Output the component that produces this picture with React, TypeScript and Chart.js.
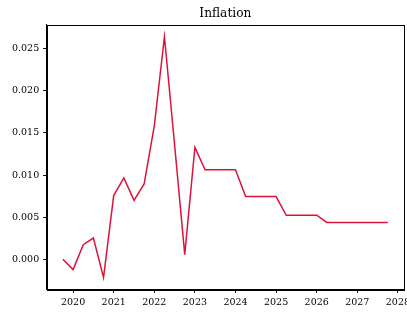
import React, { useEffect, useRef } from "react";
import { Chart, registerables } from "chart.js";

Chart.register(...registerables);

const quarters: string[] = [
  "2019-10", "2020-01", "2020-04", "2020-07", "2020-10",
  "2021-01", "2021-04", "2021-07", "2021-10",
  "2022-01", "2022-04", "2022-07", "2022-10",
  "2023-01", "2023-04", "2023-07", "2023-10",
  "2024-01", "2024-04", "2024-07", "2024-10",
  "2025-01", "2025-04", "2025-07", "2025-10",
  "2026-01", "2026-04", "2026-07", "2026-10",
  "2027-01", "2027-04", "2027-07", "2027-10",
];

const inflation: number[] = [
  0.0, -0.00122, 0.00174, 0.00252, -0.00216,
  0.00756, 0.00965, 0.00700, 0.00895,
  0.01583, 0.02642, 0.01360, 0.00055,
  0.01327, 0.01062, 0.01062, 0.01062,
  0.01062, 0.00744, 0.00744, 0.00744,
  0.00744, 0.00523, 0.00523, 0.00523,
  0.00523, 0.00437, 0.00437, 0.00437,
  0.00437, 0.00437, 0.00437, 0.00437,
];

const xTickYears: number[] = [2020, 2021, 2022, 2023, 2024, 2025, 2026, 2027, 2028];
const yTickValues: number[] = [0.0, 0.005, 0.01, 0.015, 0.02, 0.025];

const toYear = (q: string) => {
  const [y, m] = q.split("-").map(Number);
  return y + (m - 1) / 12;
};

const frame = {
  id: "frame",
  afterDraw(chart: any) {
    const { ctx, chartArea } = chart;
    ctx.save();
    ctx.strokeStyle = "#000";
    ctx.lineWidth = 1;
    ctx.strokeRect(
      Math.round(chartArea.left) + 0.5,
      Math.round(chartArea.top) + 0.5,
      Math.round(chartArea.right - chartArea.left),
      Math.round(chartArea.bottom - chartArea.top)
    );
    ctx.restore();
  },
};

export default function App() {
  const ref = useRef<HTMLCanvasElement | null>(null);
  useEffect(() => {
    if (!ref.current) return;
    const font = { family: "'DejaVu Serif', serif", size: 9.5 };
    const chart = new Chart(ref.current, {
      type: "line",
      data: {
        datasets: [
          {
            label: "Inflation",
            data: quarters.map((q, i) => ({ x: toYear(q), y: inflation[i] })),
            borderColor: "#DC143C",
            borderWidth: 1.5,
            pointRadius: 0,
            tension: 0,
            fill: false,
          },
        ],
      },
      plugins: [frame],
      options: {
        responsive: false,
        animation: false,
        devicePixelRatio: 1,
        layout: { padding: { left: 0, right: 3, top: 0, bottom: 0 } },
        plugins: {
          legend: { display: false },
          tooltip: { enabled: false },
          title: {
            display: true,
            text: "Inflation",
            fullSize: false,
            color: "#000",
            font: { family: "'DejaVu Serif', serif", size: 12.2, weight: "normal", lineHeight: 1.2 },
            padding: { top: 6.5, bottom: 3.5 },
          },
        },
        scales: {
          x: {
            type: "linear",
            min: 2019.35,
            max: 2028.15,
            afterBuildTicks: (axis: any) => {
              axis.ticks = xTickYears.map((v) => ({ value: v }));
            },
            afterFit: (axis: any) => {
              axis.height = 22.7;
              axis.paddingLeft = 0;
              axis.paddingRight = 0;
            },
            ticks: {
              color: "#000",
              font,
              padding: 4,
              maxRotation: 0,
              autoSkip: false,
              callback: (v: any) => String(v),
            },
            grid: { drawOnChartArea: false, drawTicks: true, tickLength: 3.5, color: "#000" },
            border: { display: true, color: "#000", width: 1 },
          },
          y: {
            type: "linear",
            min: -0.00356,
            max: 0.02785,
            afterBuildTicks: (axis: any) => {
              axis.ticks = yTickValues.map((v) => ({ value: v }));
            },
            afterFit: (axis: any) => {
              axis.width = 46.7;
              axis.paddingTop = 0;
              axis.paddingBottom = 0;
            },
            ticks: {
              color: "#000",
              font,
              padding: 4,
              autoSkip: false,
              callback: (v: any) => Number(v).toFixed(3),
            },
            grid: { drawOnChartArea: false, drawTicks: true, tickLength: 3.5, color: "#000" },
            border: { display: true, color: "#000", width: 1 },
          },
        },
      },
    } as any);
    return () => chart.destroy();
  }, []);
  return (
    <div style={{ position: "fixed", left: 0, top: 0, width: 407, height: 312, background: "#fff" }}>
      <canvas ref={ref} width={407} height={312} style={{ display: "block" }} />
    </div>
  );
}
